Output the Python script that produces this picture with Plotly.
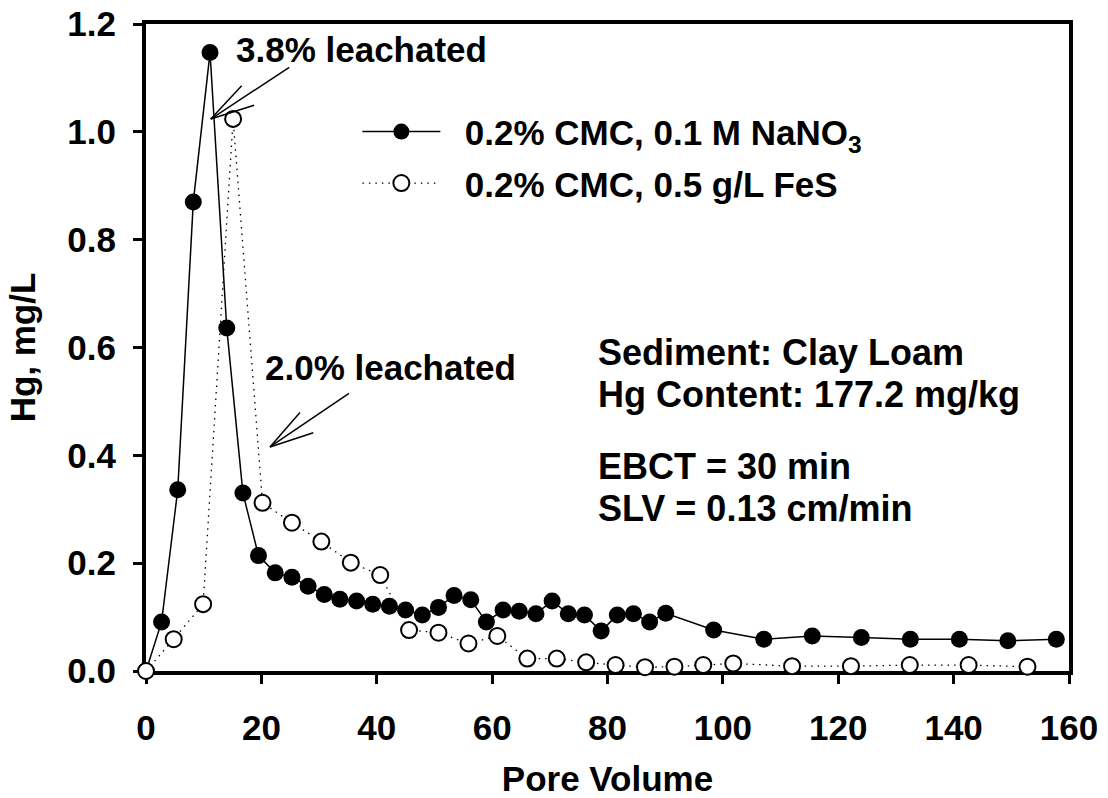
import plotly.graph_objects as go

# Hg breakthrough from the sediment column, two eluents
pv_nano3 = [0, 2.7, 5.5, 8.2, 11.1, 14.0, 16.8, 19.5, 22.4, 25.3,
            28.1, 30.9, 33.6, 36.5, 39.3, 42.2, 45.0, 47.9, 50.7, 53.4,
            56.3, 59.0, 61.9, 64.7, 67.6, 70.4, 73.2, 76.0, 78.9, 81.7,
            84.5, 87.3, 90.1, 98.4, 107.1, 115.5, 124.0, 132.5, 141.0, 149.4,
            157.8]
hg_nano3 = [0, 0.091, 0.336, 0.870, 1.147, 0.636, 0.330, 0.214, 0.182, 0.174,
            0.157, 0.142, 0.133, 0.130, 0.124, 0.120, 0.113, 0.104, 0.118, 0.140,
            0.132, 0.091, 0.113, 0.111, 0.106, 0.130, 0.106, 0.104, 0.074, 0.104,
            0.106, 0.091, 0.107, 0.076, 0.059, 0.065, 0.062, 0.059, 0.059, 0.056,
            0.059]

pv_fes = [0, 4.8, 9.9, 15.1, 20.2, 25.3, 30.4, 35.5, 40.6, 45.6,
          50.7, 55.9, 60.9, 66.1, 71.2, 76.3, 81.4, 86.5, 91.6, 96.6,
          101.8, 112.0, 122.2, 132.4, 142.6, 152.8]
hg_fes = [0, 0.059, 0.124, 1.024, 0.312, 0.275, 0.240, 0.201, 0.178, 0.076,
          0.071, 0.051, 0.065, 0.023, 0.023, 0.016, 0.011, 0.007, 0.008, 0.011,
          0.014, 0.009, 0.009, 0.011, 0.011, 0.008]

series_names = ["0.2% CMC, 0.1 M NaNO<sub>3</sub>", "0.2% CMC, 0.5 g/L FeS"]
x_ticks = [0, 20, 40, 60, 80, 100, 120, 140, 160]
y_ticks = [0.0, 0.2, 0.4, 0.6, 0.8, 1.0, 1.2]

condition_lines = ["Sediment: Clay Loam", "Hg Content: 177.2 mg/kg",
                   "EBCT = 30 min", "SLV = 0.13 cm/min"]
condition_y = [0.590, 0.512, 0.379, 0.301]

FONT = "Liberation Sans, Arial, sans-serif"
BLACK = "#000000"
PAD = "\u00a0\u00a0"  # gap between legend sample and its label

fig = go.Figure()
fig.add_trace(go.Scatter(
    x=pv_nano3, y=hg_nano3, name=PAD + series_names[0], mode="lines+markers",
    line=dict(color=BLACK, width=1.5),
    marker=dict(symbol="circle", size=17, color=BLACK, line=dict(width=0)),
    cliponaxis=False, legendgroup="a",
))
fig.add_trace(go.Scatter(
    x=pv_fes, y=hg_fes, name=PAD + series_names[1], mode="lines+markers",
    line=dict(color=BLACK, width=1.3, dash="1.5px,5px"),
    marker=dict(symbol="circle", size=16, color="white",
                line=dict(color=BLACK, width=2)),
    cliponaxis=False, legendgroup="b",
))

# leaching callouts: label position, arrow tail, tip and two open barbs
callouts = [
    dict(text="3.8% leachated", pos=(15.3, 1.152),
         tail=(24.83, 1.1197), tip=(11.22, 1.0237),
         barbs=[(16.58, 1.0856), (18.74, 1.0492)]),
    dict(text="2.0% leachated", pos=(20.2, 0.562),
         tail=(35.19, 0.5150), tip=(21.49, 0.4155),
         barbs=[(26.69, 0.4796), (29.0, 0.4418)]),
]

shapes = []
annotations = []
for c in callouts:
    annotations.append(dict(
        x=c["pos"][0], y=c["pos"][1], xref="x", yref="y", text=c["text"],
        showarrow=False, xanchor="left", yanchor="middle",
        font=dict(family=FONT, size=35, color=BLACK, weight="bold"),
    ))
    for end in [c["tail"]] + c["barbs"]:
        shapes.append(dict(type="line", xref="x", yref="y",
                           x0=c["tip"][0], y0=c["tip"][1], x1=end[0], y1=end[1],
                           line=dict(color=BLACK, width=1.5)))

for txt, yy in zip(condition_lines, condition_y):
    annotations.append(dict(
        x=78.0, y=yy, xref="x", yref="y", text=txt, showarrow=False,
        xanchor="left", yanchor="middle",
        font=dict(family=FONT, size=36, color=BLACK, weight="bold"),
    ))

axis_common = dict(
    showline=True, linewidth=4, linecolor=BLACK, mirror=True,
    ticks="outside", ticklen=9, tickwidth=3, tickcolor=BLACK,
    showgrid=False, zeroline=False, layer="below traces", automargin=False,
    tickfont=dict(family=FONT, size=35, color=BLACK, weight="bold"),
)

fig.update_layout(
    width=1108, height=798,
    margin=dict(l=146, r=39, t=24, b=127),
    paper_bgcolor="white", plot_bgcolor="white",
    font=dict(family=FONT, color=BLACK),
    xaxis=dict(range=[0, 160], tickvals=x_ticks, ticklabelstandoff=14,
               title=dict(text="Pore Volume", standoff=24,
                          font=dict(family=FONT, size=35, color=BLACK, weight="bold")),
               **axis_common),
    yaxis=dict(range=[0, 1.2], tickvals=y_ticks, tickformat=".1f",
               ticklabelstandoff=10,
               title=dict(text="Hg, mg/L", standoff=22,
                          font=dict(family=FONT, size=35, color=BLACK, weight="bold")),
               **axis_common),
    legend=dict(x=0.229, y=0.879, xanchor="left", yanchor="top",
                bgcolor="rgba(0,0,0,0)", borderwidth=0,
                itemwidth=78, tracegroupgap=3,
                font=dict(family=FONT, size=35, color=BLACK, weight="bold")),
    shapes=shapes,
    annotations=annotations,
)

fig.write_html("out.html")
